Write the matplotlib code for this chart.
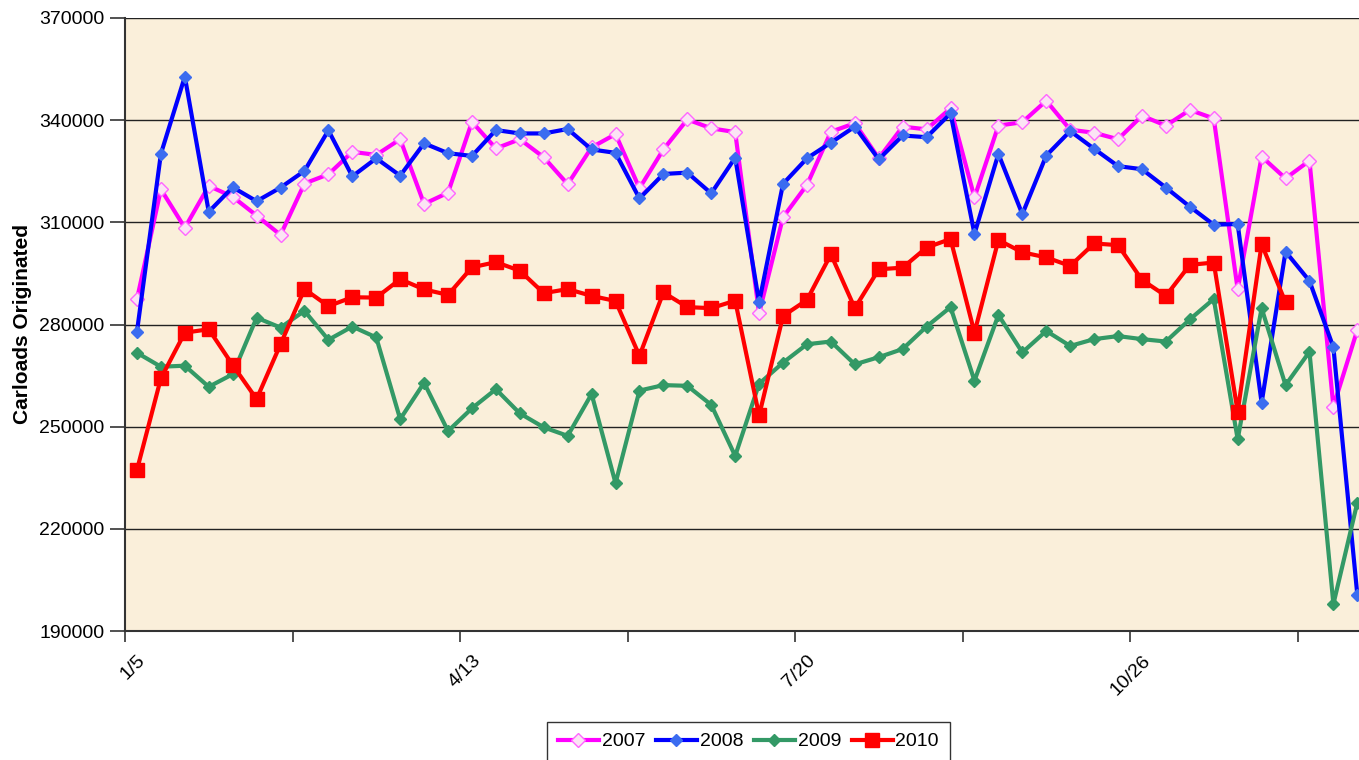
import matplotlib
matplotlib.use("Agg")
import matplotlib.pyplot as plt
from matplotlib.ticker import FixedLocator, NullFormatter

plt.rcParams['font.family'] = ['Liberation Sans', 'DejaVu Sans']

weeks = ['1/5', '1/12', '1/19', '1/26', '2/2', '2/9', '2/16', '2/23', '3/2', '3/9',
         '3/16', '3/23', '3/30', '4/6', '4/13', '4/20', '4/27', '5/4', '5/11', '5/18',
         '5/25', '6/1', '6/8', '6/15', '6/22', '6/29', '7/6', '7/13', '7/20', '7/27',
         '8/3', '8/10', '8/17', '8/24', '8/31', '9/7', '9/14', '9/21', '9/28', '10/5',
         '10/12', '10/19', '10/26', '11/2', '11/9', '11/16', '11/23', '11/30', '12/7',
         '12/14', '12/21', '12/28']

d2007 = [287400, 319700, 308400, 320700, 317500, 312000, 306300, 321400, 324100, 330700,
         329800, 334400, 315400, 318700, 339500, 331700, 334400, 329100, 321200, 332000,
         335900, 320000, 331400, 340200, 337600, 336500, 283300, 311500, 321000, 336600,
         339100, 328800, 338100, 337300, 343500, 317300, 338400, 339400, 345700, 337200,
         336300, 334400, 341300, 338400, 343000, 340500, 290300, 329300, 322900, 328100,
         255900, 278400]
d2008 = [277900, 330100, 352800, 313100, 320300, 316200, 320200, 325100, 337000, 323500,
         328800, 323700, 333200, 330300, 329500, 337100, 336100, 336100, 337400, 331400,
         330400, 317000, 324200, 324600, 318500, 329000, 286500, 321300, 328800, 333400,
         338100, 328500, 335500, 335000, 342000, 306600, 330100, 312400, 329600, 336800,
         331600, 326500, 325600, 320200, 314600, 309300, 309500, 257000, 301400, 292800,
         273300, 200600]
d2009 = [271700, 267600, 267900, 261700, 265400, 282000, 279100, 284000, 275500, 279400,
         276200, 252200, 262900, 248700, 255400, 261000, 253900, 249800, 247300, 259600,
         233400, 260600, 262200, 262000, 256400, 241400, 262600, 268800, 274200, 275000,
         268300, 270400, 272800, 279400, 285100, 263500, 282800, 271800, 278100, 273700,
         275700, 276600, 275700, 275000, 281500, 287500, 246300, 284800, 262200, 272000,
         197900, 227700]
d2010 = [237300, 264200, 277600, 278600, 268100, 258100, 274200, 290400, 285400, 288000,
         287900, 293300, 290300, 288700, 296800, 298300, 295800, 289200, 290400, 288400,
         286900, 270800, 289400, 285100, 284800, 287000, 253300, 282500, 287200, 300600,
         284800, 296200, 296700, 302600, 305100, 277600, 304800, 301200, 299700, 297200,
         303800, 303300, 293100, 288400, 297500, 298200, 254400, 303600, 286500]

y_ticks = [190000, 220000, 250000, 280000, 310000, 340000, 370000]

fig = plt.figure(figsize=(13.59, 7.60), dpi=100)
ax = fig.add_axes([125 / 1359, 1 - 631 / 760, 1 - 125 / 1359, (631 - 18) / 760])
ax.set_facecolor('#FAEFDA')

lw = 3.0
ax.plot(range(len(d2007)), d2007, color='#FF00FF', lw=lw, marker='D', ms=7,
        mfc='#FBE4F4', mec='#FF66FF', mew=1.0, label='2007', zorder=3)
ax.plot(range(len(d2008)), d2008, color='#0000FF', lw=lw, marker='D', ms=6,
        mfc='#3B6CF0', mec='#3B6CF0', label='2008', zorder=4)
ax.plot(range(len(d2009)), d2009, color='#339966', lw=lw, marker='D', ms=6.5,
        mfc='#339966', mec='#339966', label='2009', zorder=5)
ax.plot(range(len(d2010)), d2010, color='#FF0000', lw=lw, marker='s', ms=9.5,
        mfc='#FF0000', mec='#FF0000', label='2010', zorder=6)

ax.set_ylim(190000, 370000)
ax.set_xlim(-0.5, 51.07)
ax.set_yticks(y_ticks)
ax.set_yticklabels([str(v) for v in y_ticks], fontsize=14)
ax.yaxis.grid(True, color='#222222', lw=1.0)
ax.set_axisbelow(True)

label_idx = list(range(0, len(weeks), 14))
ax.set_xticks(label_idx)
ax.set_xticklabels([weeks[i] for i in label_idx], rotation=45, ha='right',
                   va='top', rotation_mode='anchor', fontsize=14)
ax.tick_params(axis='x', which='major', length=0, pad=15)
ax.xaxis.set_minor_locator(FixedLocator([i - 0.5 for i in range(0, len(weeks), 7)]))
ax.xaxis.set_minor_formatter(NullFormatter())
ax.tick_params(axis='x', which='minor', length=8, width=1.2, color='#333333')
ax.tick_params(axis='y', length=11, width=1.2, color='#333333', pad=4)

for s in ['top', 'right']:
    ax.spines[s].set_visible(False)
for s in ['left', 'bottom']:
    ax.spines[s].set_color('#333333')
    ax.spines[s].set_linewidth(1.5)

ax.set_ylabel('Carloads Originated', fontsize=15, fontweight='bold', labelpad=5)

leg = fig.legend(loc='upper center', bbox_to_anchor=(748.5 / 1359, 1 - 722 / 760),
                 ncol=4, frameon=True, fancybox=False, fontsize=14,
                 handlelength=2.1, handletextpad=0.15, columnspacing=0.55,
                 borderpad=0.55, borderaxespad=0.0, edgecolor='#000000')
leg.get_frame().set_linewidth(1.0)

fig.savefig('out.png', dpi=100)
